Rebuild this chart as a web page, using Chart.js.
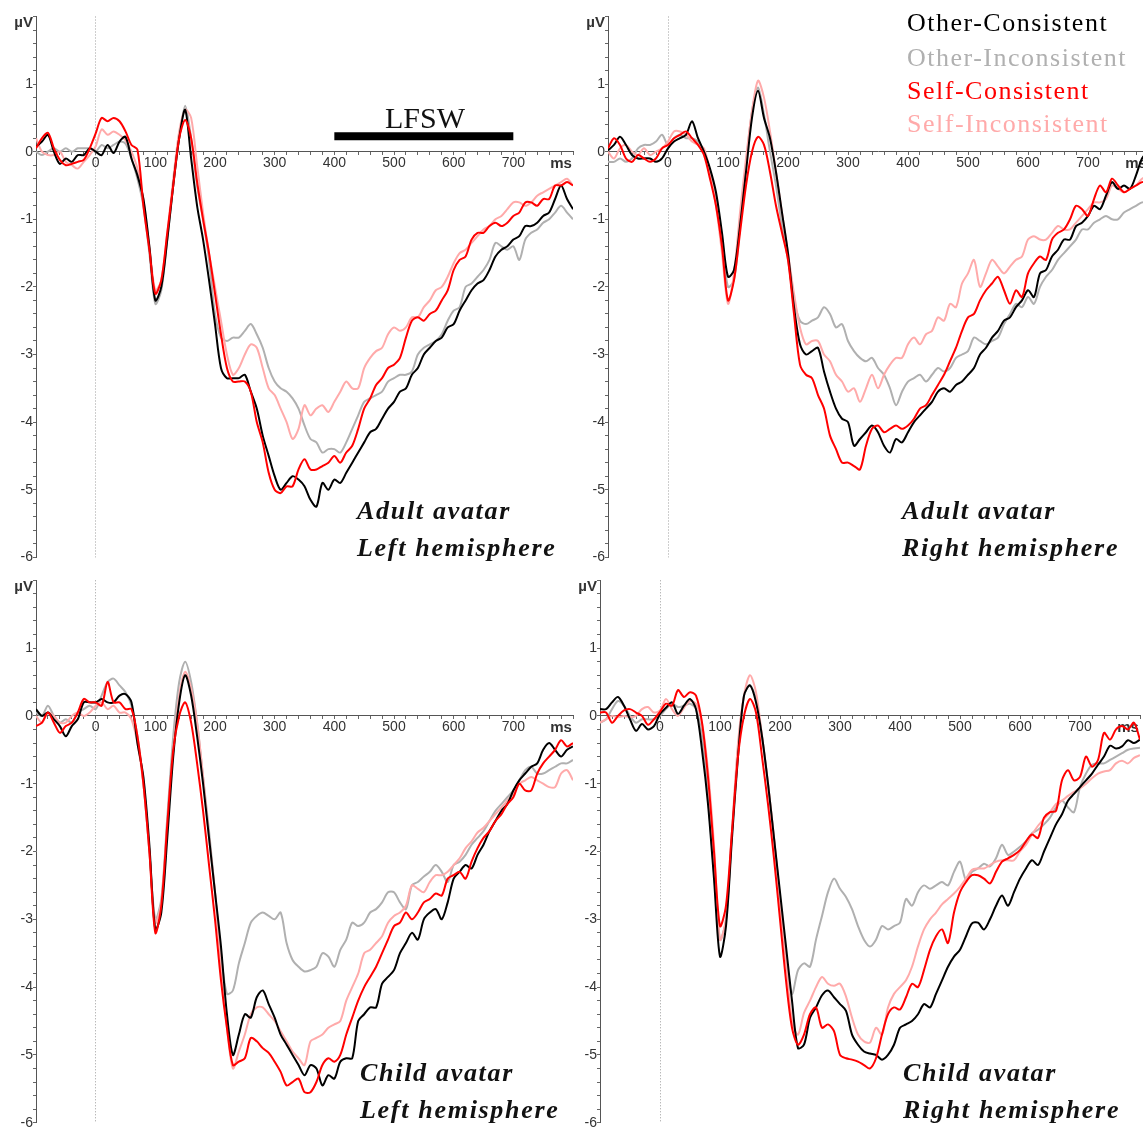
<!DOCTYPE html>
<html>
<head>
<meta charset="utf-8">
<script src="https://cdn.jsdelivr.net/npm/chart.js@4.4.1/dist/chart.umd.min.js"></script>
<style>
  html, body { margin: 0; padding: 0; background: #fff; }
  #fig { position: relative; width: 1143px; height: 1129px; overflow: hidden; background: #fff; }
  #fig canvas { position: absolute; }
  .txt { position: absolute; white-space: nowrap; line-height: 1; font-family: "Liberation Serif", "Times New Roman", serif; }
  .panel { font-weight: bold; font-style: italic; letter-spacing: 1.7px; color: #111; }
  .legend { letter-spacing: 1.5px; }
</style>
</head>
<body>
<div id="fig">
  <canvas id="c0"></canvas>
  <canvas id="c1"></canvas>
  <canvas id="c2"></canvas>
  <canvas id="c3"></canvas>
</div>
<script>
// time axis (ms), one sample every 10 ms
const times = [
  -100, -90, -80, -70, -60, -50, -40, -30, -20, -10,
  0, 10, 20, 30, 40, 50, 60, 70, 80, 90,
  100, 110, 120, 130, 140, 150, 160, 170, 180, 190,
  200, 210, 220, 230, 240, 250, 260, 270, 280, 290,
  300, 310, 320, 330, 340, 350, 360, 370, 380, 390,
  400, 410, 420, 430, 440, 450, 460, 470, 480, 490,
  500, 510, 520, 530, 540, 550, 560, 570, 580, 590,
  600, 610, 620, 630, 640, 650, 660, 670, 680, 690,
  700, 710, 720, 730, 740, 750, 760, 770, 780, 790,
  800
];

const seriesNames = ["Other-Consistent", "Other-Inconsistent", "Self-Consistent", "Self-Inconsistent"];
const seriesColors = ["#000000", "#b0b0b0", "#ff0000", "#ffaaaa"];
const xTickLabels = [0, 100, 200, 300, 400, 500, 600, 700];
const yTickLabels = [-6, -5, -4, -3, -2, -1, 0, 1];
const lfswWindow = [400, 700];
const lfswLevel = [0.23, 0.23];

// Adult avatar, left hemisphere (µV)
const adultLeftOC = [
  0.07, 0.15, 0.25, 0.0, -0.18, -0.1, -0.15, -0.05, -0.05, 0.05,
  0.0, -0.05, 0.1, -0.02, 0.15, 0.22, -0.1, -0.35, -0.7, -1.4,
  -2.2, -2.0, -1.3, -0.5, 0.2, 0.62, -0.1, -0.8, -1.3, -1.9,
  -2.55, -3.2, -3.35, -3.35, -3.35, -3.3, -3.55, -3.8, -4.2, -4.5,
  -4.8, -5.0, -4.9, -4.8, -4.85, -4.95, -5.15, -5.25, -4.9, -5.0,
  -4.85, -4.9, -4.75, -4.6, -4.45, -4.3, -4.15, -4.1, -3.95, -3.8,
  -3.7, -3.55, -3.5, -3.3, -3.2, -3.0, -2.9, -2.8, -2.75, -2.6,
  -2.55, -2.35, -2.2, -2.05, -1.95, -1.9, -1.75, -1.55, -1.45, -1.4,
  -1.3, -1.25, -1.1, -1.1, -1.05, -0.95, -0.9, -0.7, -0.5, -0.7,
  -0.85
];
const adultLeftOI = [
  0.0, -0.05, 0.0, 0.05, 0.0, 0.05, 0.0, 0.05, 0.05, 0.05,
  0.0, 0.1, 0.05, 0.1, 0.15, 0.12, -0.1, -0.4, -0.8, -1.5,
  -2.25, -2.05, -1.3, -0.5, 0.2, 0.68, 0.2, -0.5, -1.0, -1.6,
  -2.4, -2.75, -2.8, -2.75, -2.75, -2.65, -2.55, -2.7, -2.9, -3.2,
  -3.4, -3.5, -3.55, -3.65, -3.8, -4.05, -4.25, -4.3, -4.45, -4.4,
  -4.4, -4.45, -4.3, -4.1, -3.9, -3.7, -3.65, -3.6, -3.55, -3.4,
  -3.35, -3.3, -3.3, -3.25, -3.0, -2.9, -2.85, -2.8, -2.7, -2.5,
  -2.35, -2.3, -2.0, -1.95, -1.85, -1.75, -1.6, -1.35, -1.4, -1.45,
  -1.4, -1.6, -1.3, -1.2, -1.15, -1.05, -1.0, -0.9, -0.8, -0.9,
  -1.0
];
const adultLeftSC = [
  0.05, 0.2, 0.28, 0.05, -0.12, -0.2, -0.18, -0.15, -0.12, 0.05,
  0.27, 0.5, 0.45, 0.5, 0.45, 0.3, 0.1, 0.03, -0.8, -1.45,
  -2.1, -1.9, -1.2, -0.5, 0.2, 0.47, 0.2, -0.45, -1.0, -1.5,
  -2.1, -2.7, -3.2, -3.4, -3.4, -3.4, -3.55, -4.0, -4.3, -4.75,
  -5.0, -5.05, -4.95, -4.95, -4.7, -4.55, -4.7, -4.7, -4.65, -4.6,
  -4.5, -4.6, -4.45, -4.35, -4.1, -3.8, -3.65, -3.45, -3.35, -3.2,
  -3.15, -3.05, -2.75, -2.5, -2.45, -2.5, -2.4, -2.35, -2.2, -2.05,
  -1.75, -1.6, -1.55, -1.3, -1.2, -1.2, -1.1, -1.05, -1.1, -1.05,
  -0.95, -0.9, -0.75, -0.75, -0.8, -0.7, -0.7, -0.5, -0.5, -0.45,
  -0.5
];
const adultLeftSI = [
  0.2, 0.0, -0.05, -0.05, 0.0, -0.15, -0.2, -0.25, -0.15, -0.05,
  0.08, 0.33, 0.25, 0.3, 0.25, 0.17, 0.0, -0.25, -0.7, -1.4,
  -2.05, -1.9, -1.2, -0.4, 0.3, 0.62, 0.5, -0.2, -0.9, -1.5,
  -2.0, -2.5, -3.0, -3.3, -3.2, -3.0, -2.85, -2.9, -3.2, -3.5,
  -3.6, -3.8, -4.0, -4.25, -4.1, -3.75, -3.9, -3.8, -3.75, -3.85,
  -3.7, -3.55, -3.4, -3.5, -3.5, -3.2, -3.05, -2.95, -2.9, -2.7,
  -2.6, -2.65, -2.6, -2.45, -2.45, -2.3, -2.2, -2.05, -2.0, -1.85,
  -1.65, -1.5, -1.45, -1.35, -1.25, -1.15, -1.1, -1.0, -0.95, -0.85,
  -0.75, -0.75, -0.8, -0.75, -0.65, -0.6, -0.55, -0.5, -0.45, -0.4,
  -0.5
];

// Adult avatar, right hemisphere (µV)
const adultRightOC = [
  0.02, 0.1, 0.22, 0.1, -0.05, -0.1, -0.1, -0.1, -0.15, -0.1,
  0.05, 0.15, 0.2, 0.25, 0.45, 0.2, 0.0, -0.25, -0.6, -1.2,
  -1.85, -1.75, -1.1, -0.3, 0.5, 0.9, 0.5, 0.2, -0.3, -0.9,
  -1.5, -2.3, -2.85, -3.0, -2.95, -2.9, -3.25, -3.55, -3.8, -3.95,
  -4.0, -4.35, -4.25, -4.15, -4.05, -4.15, -4.35, -4.45, -4.25, -4.3,
  -4.15, -4.0, -3.9, -3.8, -3.7, -3.55, -3.5, -3.55, -3.45, -3.4,
  -3.3, -3.2, -3.0, -2.9, -2.75, -2.65, -2.5, -2.45, -2.3, -2.2,
  -2.05, -2.15, -1.8, -1.75, -1.55, -1.45, -1.3, -1.3, -1.1, -1.05,
  -0.95, -0.8, -0.85, -0.65, -0.45, -0.55, -0.5, -0.55, -0.35, -0.1,
  0.0
];
const adultRightOI = [
  -0.15, -0.15, -0.1, -0.15, -0.1, 0.05, 0.1, 0.1, 0.15, 0.25,
  0.1, 0.2, 0.25, 0.2, 0.2, 0.15, 0.0, -0.3, -0.7, -1.3,
  -2.0, -1.9, -1.1, -0.2, 0.6, 0.95, 0.55, 0.0, -0.5, -1.1,
  -1.6, -2.2, -2.5, -2.55, -2.5, -2.45, -2.3, -2.4, -2.6, -2.55,
  -2.8, -2.95, -3.05, -3.1, -3.05, -3.2, -3.3, -3.5, -3.75, -3.55,
  -3.4, -3.35, -3.3, -3.4, -3.3, -3.2, -3.25, -3.2, -3.05, -3.0,
  -2.95, -2.75, -2.8, -2.85, -2.8, -2.75, -2.55, -2.4, -2.25, -2.3,
  -2.15, -2.25, -2.0, -1.85, -1.75, -1.6, -1.5, -1.4, -1.3, -1.15,
  -1.15, -1.05, -1.0, -0.95, -1.0, -1.0, -0.9, -0.85, -0.8, -0.75,
  -0.75
];
const adultRightSC = [
  0.05, 0.2, 0.1, -0.1, -0.15, -0.05, -0.1, -0.15, -0.1, 0.05,
  0.1, 0.2, 0.25, 0.3, 0.2, 0.1, -0.05, -0.4, -0.8, -1.4,
  -2.2, -1.9, -1.2, -0.5, 0.0, 0.22, 0.1, -0.3, -0.8, -1.2,
  -1.6, -2.4, -3.15, -3.3, -3.35, -3.6, -3.8, -4.2, -4.4, -4.6,
  -4.6, -4.65, -4.7, -4.35, -4.1, -4.05, -4.15, -4.1, -4.05, -4.1,
  -4.05, -3.95, -3.8, -3.75, -3.6, -3.45, -3.3, -3.1, -2.9, -2.65,
  -2.45, -2.4, -2.2, -2.05, -1.95, -1.85, -2.05, -2.25, -2.05, -2.15,
  -1.8, -1.65, -1.55, -1.6, -1.3, -1.2, -1.15, -1.0, -0.8, -0.85,
  -0.95, -0.7, -0.5, -0.6, -0.4, -0.5, -0.6, -0.55, -0.5, -0.45,
  -0.45
];
const adultRightSI = [
  0.0, -0.1, 0.05, 0.1, 0.0, -0.05, 0.05, -0.05, 0.0, 0.05,
  0.15, 0.3, 0.3, 0.25, 0.15, 0.1, 0.05, -0.3, -0.8, -1.5,
  -2.25, -1.8, -0.9, -0.1, 0.6, 1.05, 0.8, 0.3, -0.3, -0.9,
  -1.5, -2.1, -2.6, -2.85, -2.8, -2.8, -3.0, -3.1, -3.3, -3.4,
  -3.55, -3.5, -3.7, -3.5, -3.3, -3.5, -3.3, -3.15, -3.05, -3.05,
  -2.85, -2.75, -2.85, -2.7, -2.65, -2.45, -2.5, -2.25, -2.3, -1.95,
  -1.8, -1.6, -2.0, -1.8, -1.6, -1.7, -1.8, -1.7, -1.6, -1.55,
  -1.3, -1.25, -1.3, -1.3, -1.2, -1.1, -1.15, -1.15, -1.05, -0.95,
  -0.85, -0.75, -0.75, -0.7, -0.5, -0.55, -0.6, -0.55, -0.5, -0.4,
  -0.35
];

// Child avatar, left hemisphere (µV)
const childLeftOC = [
  0.1, 0.0, 0.05, -0.05, -0.15, -0.3, -0.15, -0.05, 0.2, 0.2,
  0.2, 0.25, 0.2, 0.2, 0.3, 0.32, 0.2, -0.4, -0.9, -1.9,
  -3.15, -2.9, -1.8, -0.6, 0.2, 0.6, 0.3, -0.3, -1.0, -1.8,
  -2.6, -3.4, -4.4, -5.0, -4.7, -4.4, -4.45, -4.15, -4.05, -4.25,
  -4.45, -4.7, -4.85, -5.0, -5.15, -5.3, -5.15, -5.2, -5.45, -5.3,
  -5.35, -5.1, -5.05, -5.05, -4.5, -4.4, -4.3, -4.3, -3.95, -3.85,
  -3.75, -3.5, -3.35, -3.2, -3.3, -3.0, -2.9, -2.85, -3.0, -2.75,
  -2.4, -2.3, -2.2, -2.25, -2.05, -1.9, -1.7, -1.55, -1.4, -1.3,
  -1.1, -0.95, -0.85, -0.75, -0.7, -0.5, -0.4, -0.5, -0.6, -0.5,
  -0.45
];
const childLeftOI = [
  0.05, 0.0, 0.15, 0.0, -0.1, -0.05, -0.1, 0.05, 0.1, 0.15,
  0.1, 0.3, 0.5, 0.55, 0.45, 0.35, 0.15, -0.3, -1.0, -2.0,
  -3.0, -2.7, -1.5, -0.3, 0.5, 0.8, 0.5, -0.1, -0.9, -1.7,
  -2.6, -3.5, -4.1, -4.05, -3.65, -3.35, -3.05, -2.95, -2.9, -2.95,
  -3.0, -2.9, -3.35, -3.6, -3.7, -3.77, -3.75, -3.7, -3.5, -3.55,
  -3.7, -3.45, -3.3, -3.05, -3.1, -3.05, -2.9, -2.85, -2.75, -2.6,
  -2.6, -2.75, -2.85, -2.5, -2.45, -2.37, -2.3, -2.2, -2.3, -2.45,
  -2.2, -2.15, -2.05, -1.9, -1.8, -1.7, -1.55, -1.4, -1.3, -1.2,
  -1.1, -0.95, -0.8, -0.75, -0.85, -0.85, -0.8, -0.75, -0.7, -0.7,
  -0.65
];
const childLeftSC = [
  -0.15, -0.1, 0.05, -0.1, -0.25, -0.15, -0.1, 0.05, 0.25, 0.2,
  0.2, 0.15, 0.5, 0.2, 0.2, 0.1, 0.1, -0.3, -1.0, -2.0,
  -3.2, -2.8, -1.6, -0.5, 0.0, 0.2, -0.1, -0.7, -1.4, -2.2,
  -3.0, -3.9, -4.6, -5.15, -5.1, -5.05, -4.75, -4.8, -4.9, -4.97,
  -5.1, -5.25, -5.45, -5.4, -5.35, -5.55, -5.55, -5.4, -5.15, -5.05,
  -5.1, -5.0, -4.7, -4.45, -4.2, -4.0, -3.85, -3.7, -3.5, -3.3,
  -3.1, -3.05, -2.9, -3.0, -2.9, -2.75, -2.7, -2.62, -2.65, -2.4,
  -2.35, -2.3, -2.4, -2.15, -1.95, -1.8, -1.7, -1.55, -1.45, -1.3,
  -1.2, -1.0, -1.1, -1.1, -0.85, -0.7, -0.6, -0.5, -0.36, -0.45,
  -0.4
];
const childLeftSI = [
  0.0, -0.1, 0.05, 0.0, -0.1, -0.1, 0.0, 0.05, 0.0, 0.05,
  0.15, 0.2, 0.1, 0.15, 0.05, 0.05, -0.05, -0.4, -1.0, -2.0,
  -3.05, -2.75, -1.6, -0.5, 0.3, 0.65, 0.4, -0.1, -0.9, -1.8,
  -2.6, -3.7, -4.6, -5.2, -4.95, -4.7, -4.4, -4.3, -4.3, -4.4,
  -4.5, -4.65, -4.8, -4.95, -5.05, -5.15, -4.8, -4.75, -4.7, -4.6,
  -4.55, -4.5, -4.2, -4.0, -3.8, -3.5, -3.45, -3.35, -3.25, -3.05,
  -2.95, -2.9, -2.8, -2.5, -2.55, -2.6, -2.45, -2.35, -2.35, -2.3,
  -2.2, -2.1, -1.95, -1.85, -1.72, -1.65, -1.55, -1.45, -1.35, -1.25,
  -1.15, -1.0, -0.95, -0.9, -0.95, -1.0, -1.05, -1.05, -0.85, -0.8,
  -0.95
];

// Child avatar, right hemisphere (µV)
const childRightOC = [
  0.1, 0.1, 0.2, 0.28, 0.15, -0.05, -0.22, -0.12, -0.2, -0.15,
  0.03, 0.12, 0.2, 0.03, 0.15, 0.25, 0.1, -0.5, -1.3, -2.4,
  -3.55, -3.1, -1.8, -0.6, 0.3, 0.45, 0.2, -0.3, -1.0, -1.8,
  -2.6, -3.4, -4.2, -4.9, -4.85, -4.45, -4.3, -4.12, -4.05, -4.15,
  -4.25, -4.35, -4.7, -4.85, -4.95, -4.98, -5.0, -5.07, -5.0, -4.85,
  -4.6, -4.55, -4.5, -4.4, -4.25, -4.3, -4.1, -3.9, -3.7, -3.55,
  -3.45, -3.25, -3.06, -3.05, -3.15, -3.0, -2.8, -2.65, -2.8, -2.6,
  -2.4, -2.25, -2.13, -2.2, -2.0, -1.8, -1.6, -1.45, -1.25, -1.15,
  -1.05, -0.95, -0.85, -0.72, -0.6, -0.44, -0.48, -0.45, -0.36, -0.4,
  -0.35
];
const childRightOI = [
  -0.1, -0.05, 0.1, 0.22, 0.15, 0.0, -0.1, -0.05, -0.05, -0.05,
  0.0, 0.1, 0.18, 0.13, 0.15, 0.18, 0.1, -0.3, -1.2, -2.3,
  -3.3, -3.0, -1.7, -0.5, 0.3, 0.45, 0.25, -0.3, -1.0, -1.8,
  -2.7, -3.6, -4.1, -3.75, -3.65, -3.7, -3.3, -2.95, -2.6, -2.4,
  -2.55, -2.67, -2.85, -3.1, -3.3, -3.4, -3.3, -3.1, -3.15, -3.1,
  -3.05, -2.7, -2.8, -2.6, -2.5, -2.55, -2.5, -2.45, -2.5, -2.3,
  -2.15, -2.42, -2.3, -2.25, -2.18, -2.22, -2.1, -1.9, -2.05, -2.0,
  -1.93, -1.85, -1.73, -1.68, -1.6, -1.5, -1.35, -1.25, -1.35, -1.42,
  -1.05, -0.85, -0.72, -0.7, -0.7, -0.65, -0.6, -0.55, -0.5, -0.48,
  -0.47
];
const childRightSC = [
  0.05, 0.05, -0.1, 0.0, 0.08, 0.1, 0.05, 0.0, -0.13, -0.05,
  0.06, 0.18, 0.15, 0.38, 0.28, 0.35, 0.3, -0.1, -0.9, -2.0,
  -3.1, -2.8, -1.7, -0.6, 0.0, 0.25, 0.05, -0.6, -1.3, -2.1,
  -3.0, -3.9, -4.6, -4.85, -4.7, -4.4, -4.3, -4.6, -4.55, -4.65,
  -5.0, -5.05, -5.07, -5.1, -5.15, -5.2, -5.05, -4.7, -4.4, -4.3,
  -4.33, -4.15, -3.95, -4.0, -3.75, -3.45, -3.25, -3.15, -3.35, -2.9,
  -2.6, -2.45, -2.35, -2.35, -2.4, -2.47, -2.3, -2.15, -2.1, -2.05,
  -1.98, -1.85, -1.75, -1.8, -1.5, -1.42, -1.4, -0.95, -0.8, -0.95,
  -0.9, -0.6, -0.75, -0.65, -0.25, -0.35, -0.2, -0.15, -0.2, -0.1,
  -0.35
];
const childRightSI = [
  -0.1, -0.05, 0.0, -0.02, 0.0, -0.02, 0.0, 0.1, 0.13, 0.05,
  0.08, 0.25, 0.1, 0.0, 0.12, 0.22, 0.18, -0.1, -0.8, -1.9,
  -3.3, -3.0, -1.7, -0.4, 0.3, 0.6, 0.35, -0.3, -1.0, -1.8,
  -2.7, -3.6, -4.5, -4.7, -4.38, -4.2, -4.0, -3.85, -3.95, -3.98,
  -3.95, -4.14, -4.45, -4.7, -4.8, -4.82, -4.6, -4.7, -4.3, -4.1,
  -4.0, -3.9, -3.7, -3.4, -3.15, -3.0, -2.9, -2.78, -2.7, -2.62,
  -2.52, -2.4, -2.27, -2.25, -2.25, -2.2, -2.15, -2.13, -2.13, -2.13,
  -2.0, -1.9, -1.75, -1.62, -1.52, -1.42, -1.3, -1.25, -1.18, -1.12,
  -1.07, -1.0, -0.92, -0.85, -0.82, -0.8, -0.7, -0.66, -0.7, -0.62,
  -0.58
];

const tickFont = { family: "'Liberation Sans', Arial, sans-serif", size: 14 };
const unitFont = { family: "'Liberation Sans', Arial, sans-serif", size: 15, weight: "bold" };

// minor ticks every 20 ms / 0.2 µV, unit labels sit on their own tick
const xTickValues = [];
for (let t = -100; t <= 800; t += 20) xTickValues.push(t);
const yTickValues = [];
for (let k = -30; k <= 10; k++) {
    yTickValues.push(Math.round(k * 2) / 10);
    if (k === 9) yTickValues.push(1.9);
}

function toPoints(values) {
    return times.map((t, i) => ({ x: t, y: values[i] }));
}

function makePanel(id, box, values, withBar) {
    const canvas = document.getElementById(id);
    canvas.width = box.w;
    canvas.height = box.h;
    canvas.style.left = box.x + "px";
    canvas.style.top = box.y + "px";

    // drawn from back to front: gray, pink, black, red
    const order = [2, 0, 3, 1];
    const datasets = order.map((k) => ({
        label: seriesNames[k],
        data: toPoints(values[k]),
        borderColor: seriesColors[k],
        borderWidth: 2,
        pointRadius: 0,
        tension: 0.3,
        fill: false,
    }));

    if (withBar) {
        datasets.push({
            label: "LFSW",
            data: lfswWindow.map((t, i) => ({ x: t, y: lfswLevel[i] })),
            borderColor: "#000",
            borderWidth: 8,
            borderCapStyle: "butt",
            pointRadius: 0,
            tension: 0,
        });
    }

    return new Chart(canvas, {
        type: "line",
        data: { datasets },
        options: {
            responsive: false,
            animation: false,
            devicePixelRatio: 1,
            layout: { padding: { left: 0, top: box.pt, right: box.pr, bottom: box.pb } },
            plugins: { legend: { display: false }, tooltip: { enabled: false } },
            scales: {
                x: {
                    type: "linear",
                    min: -100,
                    max: 800,
                    position: { y: 0 },
                    afterBuildTicks: (scale) => {
                        scale.ticks = xTickValues.map((v) => ({ value: v }));
                    },
                    ticks: {
                        autoSkip: false,
                        maxRotation: 0,
                        padding: 0,
                        color: "#333",
                        font: (c) => (c.tick && c.tick.value === 780 ? unitFont : tickFont),
                        callback: (v) => {
                            if (v === 780) return "ms";
                            return xTickLabels.includes(v) ? String(v) : "";
                        },
                    },
                    grid: {
                        drawOnChartArea: true,
                        drawTicks: true,
                        tickLength: 3,
                        tickColor: "#666",
                        color: (c) => (c.tick && c.tick.value === 0 ? "#9c9c9c" : "rgba(0,0,0,0)"),
                        lineWidth: 1,
                    },
                    border: { display: true, color: "#555", width: 1, dash: [1, 2] },
                },
                y: {
                    type: "linear",
                    min: -6,
                    max: 2,
                    afterFit: (scale) => {
                        scale.width = 36;
                    },
                    afterBuildTicks: (scale) => {
                        scale.ticks = yTickValues.map((v) => ({ value: v }));
                    },
                    ticks: {
                        autoSkip: false,
                        padding: 0,
                        color: "#333",
                        font: (c) => (c.tick && c.tick.value === 1.9 ? unitFont : tickFont),
                        callback: (v) => {
                            if (v === 1.9) return "µV";
                            return yTickLabels.includes(v) ? String(v) : "";
                        },
                    },
                    grid: {
                        drawOnChartArea: false,
                        drawTicks: true,
                        tickLength: 3,
                        tickColor: (c) => (c.tick && c.tick.value === 1.9 ? "rgba(0,0,0,0)" : "#666"),
                    },
                    border: { display: true, color: "#555", width: 1 },
                },
            },
        },
    });
}

makePanel("c0", { x: 0, y: 0, w: 590, h: 570, pt: 16.5, pr: 17, pb: 12.7 },
    [adultLeftOC, adultLeftOI, adultLeftSC, adultLeftSI], true);
makePanel("c1", { x: 572, y: 0, w: 588, h: 570, pt: 16.5, pr: 12, pb: 12.7 },
    [adultRightOC, adultRightOI, adultRightSC, adultRightSI], false);
makePanel("c2", { x: 0, y: 564, w: 590, h: 575, pt: 16.3, pr: 17, pb: 16.3 },
    [childLeftOC, childLeftOI, childLeftSC, childLeftSI], false);
makePanel("c3", { x: 564, y: 564, w: 590, h: 575, pt: 16.3, pr: 14, pb: 16.3 },
    [childRightOC, childRightOI, childRightSC, childRightSI], false);

// text: placed by baseline
const fig = document.getElementById("fig");
function addText(text, x, baseline, size, cls, color) {
    const d = document.createElement("div");
    d.className = "txt " + cls;
    d.textContent = text;
    d.style.left = x + "px";
    d.style.top = (baseline - 0.8375 * size) + "px";
    d.style.fontSize = size + "px";
    d.style.color = color;
    fig.appendChild(d);
}

const legendBaselines = [32, 66.5, 99.5, 133];
seriesNames.forEach((name, i) => {
    addText(name, 907, legendBaselines[i], 26, "legend", seriesColors[i]);
});

addText("LFSW", 385, 127.7, 30, "", "#111");

addText("Adult avatar", 357, 520, 26, "panel", "#111");
addText("Left hemisphere", 357, 557, 26, "panel", "#111");
addText("Adult avatar", 902, 520, 26, "panel", "#111");
addText("Right hemisphere", 902, 557, 26, "panel", "#111");
addText("Child avatar", 360, 1082, 26, "panel", "#111");
addText("Left hemisphere", 360, 1119, 26, "panel", "#111");
addText("Child avatar", 903, 1082, 26, "panel", "#111");
addText("Right hemisphere", 903, 1119, 26, "panel", "#111");
</script>
</body>
</html>
